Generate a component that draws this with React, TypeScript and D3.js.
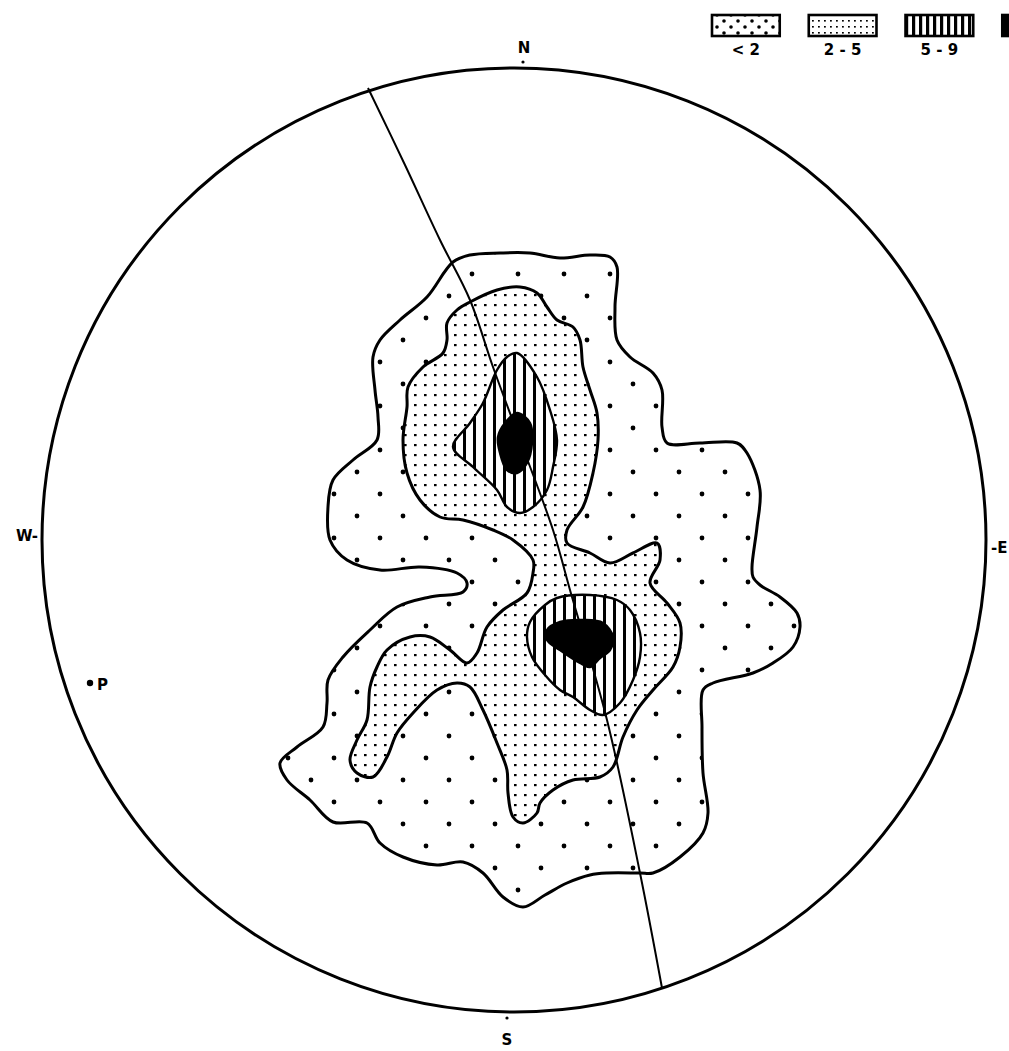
import React, { useRef, useEffect } from "react";
import * as d3 from "d3";

// Net coordinates: origin at the centre of the net, radius 472, y pointing north.
const netRadius = 472;

// < 2 % contour (outer boundary)
const outerContour: [number, number][] = [
  [-61, 278], [-44, 285], [-14, 287], [16, 287], [46, 282], [76, 285], [96, 283], [103, 273],
  [101, 233], [103, 200], [116, 183], [139, 167], [148, 150], [148, 113], [153, 97], [186, 97],
  [223, 97], [233, 87], [246, 50], [243, 13], [238, -27], [239, -37], [246, -45], [266, -57],
  [283, -73], [286, -87], [279, -107], [259, -123], [239, -133], [199, -143], [189, -150],
  [188, -187], [189, -233], [194, -273], [189, -293], [166, -317], [139, -333], [126, -333],
  [93, -333], [76, -335], [53, -343], [31, -355], [9, -367], [-11, -357], [-31, -333],
  [-51, -322], [-77, -325], [-111, -317], [-134, -303], [-147, -283], [-181, -282], [-204, -260],
  [-227, -240], [-234, -223], [-217, -207], [-191, -187], [-187, -163], [-186, -140], [-171, -117],
  [-144, -90], [-117, -67], [-84, -57], [-51, -52], [-47, -43], [-57, -33], [-94, -27],
  [-134, -30], [-167, -20], [-184, 0], [-186, 33], [-181, 60], [-161, 80], [-137, 100],
  [-136, 123], [-139, 150], [-141, 183], [-134, 200], [-114, 220], [-87, 243],
];

// 2 % contour
const contour2: [number, number][] = [
  [-44, 238], [-17, 250], [6, 253], [23, 247], [33, 233], [43, 220], [59, 213], [66, 200],
  [69, 173], [76, 150], [83, 127], [84, 100], [79, 67], [69, 33], [53, 10], [53, -3],
  [76, -13], [96, -23], [119, -13], [143, -3], [146, -20], [136, -43], [153, -63], [166, -83],
  [166, -107], [159, -127], [139, -150], [123, -170], [109, -197], [99, -227], [86, -237],
  [59, -240], [39, -250], [26, -263], [23, -273], [9, -283], [-1, -277], [-6, -253], [-7, -230],
  [-17, -203], [-31, -170], [-44, -147], [-57, -143], [-77, -150], [-101, -173], [-117, -193],
  [-127, -217], [-141, -237], [-157, -233], [-164, -220], [-157, -200], [-147, -180],
  [-144, -147], [-137, -127], [-127, -110], [-104, -97], [-84, -97], [-64, -110], [-47, -123],
  [-37, -113], [-27, -87], [-11, -70], [13, -53], [19, -33], [19, -20], [-1, 0], [-21, 10],
  [-51, 20], [-74, 23], [-94, 40], [-107, 67], [-111, 100], [-107, 133], [-106, 153],
  [-91, 173], [-71, 187], [-67, 200], [-67, 217], [-57, 230],
];

// 5 % contours
const contour5Upper: [number, number][] = [
  [3, 187], [23, 163], [36, 130], [43, 100], [39, 73], [33, 50], [19, 33], [6, 27],
  [-7, 33], [-17, 50], [-41, 73], [-61, 93], [-44, 117], [-31, 137], [-17, 170], [-7, 183],
];
const contour5Lower: [number, number][] = [
  [31, -65], [43, -58], [76, -55], [103, -60], [116, -70], [126, -93], [126, -117], [119, -140],
  [106, -163], [89, -175], [76, -170], [59, -157], [46, -150], [31, -135], [18, -117],
  [13, -97], [16, -82],
];

// 9 % maxima
const max9Upper: [number, number][] = [
  [3, 127], [16, 117], [18, 97], [13, 77], [3, 67], [-7, 70], [-14, 87], [-16, 103], [-9, 117],
];
const max9Lower: [number, number][] = [
  [33, -90], [46, -82], [69, -80], [89, -83], [99, -97], [96, -110], [86, -118], [76, -127],
  [66, -123], [46, -110], [33, -100],
];

// great circle trace
const greatCircle: [number, number][] = [
  [-146, 452], [-109, 375], [-74, 300], [-44, 240], [-21, 173], [6, 100], [39, 10],
  [56, -50], [93, -180], [126, -333], [148, -448],
];

const pole = { label: "P", x: -424, y: -143 };

const compassTicks: [number, number][] = [[9, 478], [-7, -478]];
const compassLabels = [
  { text: "N", x: 10, y: 487, anchor: "middle" },
  { text: "S", x: -7, y: -505, anchor: "middle" },
  { text: "W-", x: -476, y: -1, anchor: "end" },
  { text: "-E", x: 477, y: -13, anchor: "start" },
];

const legendLabels = ["< 2", "2 - 5", "5 - 9", ""];
const legendFills = ["url(#lg-sparse)", "url(#lg-dense)", "url(#lg-bars)", "#000"];

export default function App() {
  const svgRef = useRef<SVGSVGElement>(null);

  useEffect(() => {
    const svg = d3.select(svgRef.current);
    svg.selectAll("*").remove();

    const cx = 514;
    const cy = 540;
    const R = 472;
    const x = d3.scaleLinear().domain([-netRadius, netRadius]).range([cx - R, cx + R]);
    const y = d3.scaleLinear().domain([-netRadius, netRadius]).range([cy + R, cy - R]);

    const defs = svg.append("defs");
    const pattern = (id: string, w: number, h: number) => {
      const p = defs.append("pattern").attr("id", id)
        .attr("patternUnits", "userSpaceOnUse").attr("width", w).attr("height", h);
      p.append("rect").attr("width", w).attr("height", h).attr("fill", "#fff");
      return p;
    };
    // chart patterns
    const sparse = pattern("p-sparse", 46, 44);
    sparse.append("circle").attr("cx", 12).attr("cy", 10).attr("r", 2.4);
    sparse.append("circle").attr("cx", 35).attr("cy", 32).attr("r", 2.4);
    const dense = pattern("p-dense", 10, 10);
    dense.append("rect").attr("x", 4).attr("y", 4).attr("width", 2.6).attr("height", 2.2);
    const bars = pattern("p-bars", 10, 10);
    bars.append("rect").attr("x", 3).attr("width", 3).attr("height", 10);
    // legend patterns
    const lgSparse = pattern("lg-sparse", 14, 12);
    lgSparse.append("circle").attr("cx", 3).attr("cy", 3).attr("r", 1.8);
    lgSparse.append("circle").attr("cx", 10).attr("cy", 9).attr("r", 1.8);
    const lgDense = pattern("lg-dense", 6, 6);
    lgDense.append("rect").attr("x", 2).attr("y", 2).attr("width", 1.8).attr("height", 1.6);
    const lgBars = pattern("lg-bars", 7, 10);
    lgBars.append("rect").attr("x", 2).attr("width", 3.2).attr("height", 10);

    const area = d3.line<[number, number]>()
      .x((d) => x(d[0]))
      .y((d) => y(d[1]))
      .curve(d3.curveCatmullRomClosed.alpha(0.5));

    const g = svg.append("g");
    const regions = [
      { pts: outerContour, fill: "url(#p-sparse)" },
      { pts: contour2, fill: "url(#p-dense)" },
      { pts: contour5Upper, fill: "url(#p-bars)" },
      { pts: contour5Lower, fill: "url(#p-bars)" },
      { pts: max9Upper, fill: "#000" },
      { pts: max9Lower, fill: "#000" },
    ];
    g.selectAll("path.region")
      .data(regions)
      .enter()
      .append("path")
      .attr("class", "region")
      .attr("d", (d) => area(d.pts))
      .attr("fill", (d) => d.fill)
      .attr("stroke", "#000")
      .attr("stroke-width", (d, i) => (i < 2 ? 3 : 2.4))
      .attr("stroke-linejoin", "round");

    // primitive circle
    svg.append("circle")
      .attr("cx", x(0)).attr("cy", y(0)).attr("r", x(netRadius) - x(0))
      .attr("fill", "none").attr("stroke", "#000").attr("stroke-width", 3);

    // great circle
    const trace = d3.line<[number, number]>()
      .x((d) => x(d[0]))
      .y((d) => y(d[1]))
      .curve(d3.curveCatmullRom);
    svg.append("path")
      .attr("d", trace(greatCircle))
      .attr("fill", "none").attr("stroke", "#000").attr("stroke-width", 2);

    // compass ticks and labels
    svg.selectAll("circle.tick")
      .data(compassTicks)
      .enter()
      .append("circle")
      .attr("class", "tick")
      .attr("cx", (d) => x(d[0])).attr("cy", (d) => y(d[1])).attr("r", 1.6);
    svg.selectAll("text.compass")
      .data(compassLabels)
      .enter()
      .append("text")
      .attr("class", "compass")
      .attr("x", (d) => x(d.x))
      .attr("y", (d) => y(d.y))
      .attr("text-anchor", (d) => d.anchor)
      .attr("font-family", "DejaVu Sans, sans-serif")
      .attr("font-weight", "bold")
      .attr("font-size", 15)
      .text((d) => d.text);

    // pole
    svg.append("circle").attr("cx", x(pole.x)).attr("cy", y(pole.y)).attr("r", 3.2);
    svg.append("text")
      .attr("x", x(pole.x) + 7).attr("y", y(pole.y) + 7)
      .attr("font-family", "DejaVu Sans, sans-serif")
      .attr("font-weight", "bold").attr("font-size", 15)
      .text(pole.label);

    // legend
    const lx = d3.scaleBand<number>().domain(d3.range(legendLabels.length)).range([712, 1070]).paddingInner(0.3);
    const lg = svg.append("g");
    lg.selectAll("rect")
      .data(legendLabels)
      .enter()
      .append("rect")
      .attr("x", (d, i) => lx(i) as number)
      .attr("y", 15)
      .attr("width", (d, i) => (i === 3 ? 14 : lx.bandwidth()))
      .attr("height", 21)
      .attr("fill", (d, i) => legendFills[i])
      .attr("stroke", "#000")
      .attr("stroke-width", 2.6);
    lg.selectAll("text")
      .data(legendLabels)
      .enter()
      .append("text")
      .attr("x", (d, i) => (lx(i) as number) + lx.bandwidth() / 2)
      .attr("y", 55)
      .attr("text-anchor", "middle")
      .attr("font-family", "DejaVu Sans, sans-serif")
      .attr("font-weight", "bold")
      .attr("font-size", 15)
      .text((d) => d);
  }, []);

  return (
    <div style={{ position: "absolute", left: 0, top: 0, background: "#fff" }}>
      <svg ref={svgRef} width={1009} height={1051}></svg>
    </div>
  );
}
